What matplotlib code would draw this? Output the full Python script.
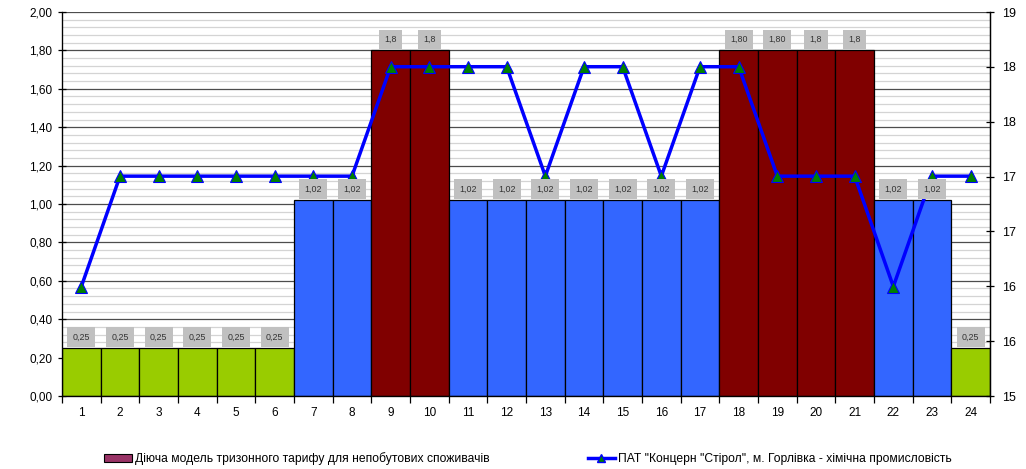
import numpy as np
import matplotlib
matplotlib.use("Agg")
import matplotlib.pyplot as plt
from matplotlib.patches import Patch
from matplotlib.lines import Line2D
from matplotlib.ticker import FuncFormatter, MultipleLocator, FixedLocator

plt.rcParams["font.family"] = ["Liberation Sans", "DejaVu Sans"]

# ------------------------------------------------------------------ #
# Data: hourly tariff zones and plant load profile
# ------------------------------------------------------------------ #
hours = list(range(1, 25))
tariff = [0.25, 0.25, 0.25, 0.25, 0.25, 0.25, 1.02, 1.02, 1.8, 1.8, 1.02, 1.02,
          1.02, 1.02, 1.02, 1.02, 1.02, 1.80, 1.80, 1.8, 1.8, 1.02, 1.02, 0.25]
tariff_text = ["0,25", "0,25", "0,25", "0,25", "0,25", "0,25", "1,02", "1,02",
               "1,8", "1,8", "1,02", "1,02", "1,02", "1,02", "1,02", "1,02",
               "1,02", "1,80", "1,80", "1,8", "1,8", "1,02", "1,02", "0,25"]
plant_load = [16.14, 17.29, 17.29, 17.29, 17.29, 17.29, 17.29, 17.29,
              18.43, 18.43, 18.43, 18.43, 17.29, 18.43, 18.43, 17.29,
              18.43, 18.43, 17.29, 17.29, 17.29, 16.14, 17.29, 17.29]

tariff_label = "Діюча модель тризонного тарифу для непобутових споживачів"
plant_label = "ПАТ \"Концерн \"Стірол\", м. Горлівка - хімічна промисловість"

zone_colors = {0.25: "#99CC00", 1.02: "#3366FF", 1.8: "#800000"}
bar_colors = [zone_colors[round(v, 2)] for v in tariff]

# ------------------------------------------------------------------ #
# Figure
# ------------------------------------------------------------------ #
fig = plt.figure(figsize=(10.26, 4.69), dpi=100)
ax = fig.add_axes([62 / 1026, 1 - 396 / 469, 928 / 1026, 384 / 469])

ax.bar(hours, tariff, width=1.0, color=bar_colors, edgecolor="black",
       linewidth=0.9, zorder=2)

ax.set_xlim(0.5, 24.5)
ax.set_ylim(0, 2.0)
ax.yaxis.set_major_locator(MultipleLocator(0.2))
ax.yaxis.set_minor_locator(MultipleLocator(0.04))
ax.yaxis.set_major_formatter(FuncFormatter(lambda v, _: f"{v:.2f}".replace(".", ",")))
ax.grid(which="major", axis="y", color="#4d4d4d", linewidth=0.9)
ax.grid(which="minor", axis="y", color="#d4d4d4", linewidth=0.9)
ax.set_axisbelow(True)

# category boundaries get the ticks, centers get the labels
ax.xaxis.set_major_locator(FixedLocator(np.arange(0.5, 25, 1.0)))
ax.xaxis.set_major_formatter(FuncFormatter(lambda v, _: ""))
ax.xaxis.set_minor_locator(FixedLocator(hours))
ax.xaxis.set_minor_formatter(FuncFormatter(lambda v, _: f"{int(round(v))}"))
ax.tick_params(axis="x", which="major", length=5, width=0.9, direction="out")
ax.tick_params(axis="x", which="minor", length=0, labelsize=8.5, pad=8)
ax.tick_params(axis="y", which="major", length=6, width=0.9, direction="inout",
               labelsize=8.5, pad=4)
ax.tick_params(axis="y", which="minor", length=0)

for side in ["left", "bottom", "right"]:
    ax.spines[side].set_linewidth(0.9)
ax.spines["top"].set_visible(False)

# right axis for the plant profile
ax2 = ax.twinx()
ax2.set_ylim(15, 19)
ax2.yaxis.set_major_locator(FixedLocator(np.linspace(15, 19, 8)))
ax2.yaxis.set_major_formatter(FuncFormatter(lambda v, _: f"{v:.0f}"))
ax2.tick_params(axis="y", length=6, width=0.9, direction="inout",
                labelsize=9, pad=6)
ax2.spines["top"].set_visible(False)
ax2.spines["right"].set_linewidth(0.9)

ax2.plot(hours, plant_load, color="#0000FF", linewidth=2.5, marker="^",
         markersize=8, markerfacecolor="#008000", markeredgecolor="#0000FF",
         markeredgewidth=0.8, zorder=3)

# value labels in grey boxes above each bar
for h, v, txt in zip(hours, tariff, tariff_text):
    ax2.annotate(txt, xy=(h, v), xycoords=ax.transData,
                 xytext=(0, 11), textcoords="offset pixels",
                 ha="center", va="center", fontsize=6.4, color="#333333",
                 bbox=dict(boxstyle="square,pad=0.6", fc="#C0C0C0", ec="none"),
                 zorder=5)

# legends below the plot
h_bar = Patch(facecolor="#993366", edgecolor="black", linewidth=0.8)
h_line = Line2D([], [], color="#0000FF", linewidth=2.5, marker="^",
                markersize=6, markerfacecolor="#008000", markeredgecolor="#0000FF")
fig.legend([h_bar], [tariff_label], loc="center left",
           bbox_to_anchor=(104 / 1026, 1 - 459 / 469), frameon=False,
           fontsize=8.7, handlelength=2.3, handleheight=0.6, handletextpad=0.3,
           borderpad=0, borderaxespad=0)
fig.legend([h_line], [plant_label], loc="center left",
           bbox_to_anchor=(588 / 1026, 1 - 459 / 469), frameon=False,
           fontsize=8.7, handlelength=2.2, handletextpad=0.3,
           borderpad=0, borderaxespad=0)

fig.savefig("out.png", dpi=100)
